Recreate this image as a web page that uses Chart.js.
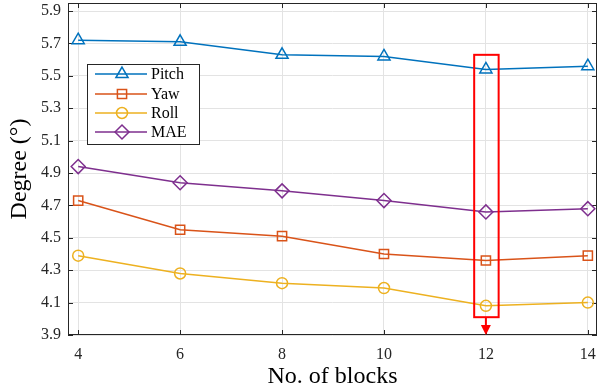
<!DOCTYPE html>
<html>
<head>
<meta charset="utf-8">
<script src="https://cdn.jsdelivr.net/npm/chart.js@4/dist/chart.umd.min.js"></script>
<style>
html,body{margin:0;padding:0;background:#fff;}
#wrap{width:599px;height:389px;position:relative;}
</style>
</head>
<body>
<div id="wrap"><canvas id="c" width="599" height="389"></canvas></div>
<script>
const blocks = [4, 6, 8, 10, 12, 14];
const pitch = [5.72, 5.71, 5.63, 5.62, 5.54, 5.56];
const yaw   = [4.73, 4.55, 4.51, 4.40, 4.36, 4.39];
const roll  = [4.39, 4.28, 4.22, 4.19, 4.08, 4.10];
const mae   = [4.94, 4.84, 4.79, 4.73, 4.66, 4.68];
const yTickValues = [3.9, 4.1, 4.3, 4.5, 4.7, 4.9, 5.1, 5.3, 5.5, 5.7, 5.9];
const xTickValues = [4, 6, 8, 10, 12, 14];
const seriesNames = ['Pitch', 'Yaw', 'Roll', 'MAE'];
const highlightBlock = 12;
const highlightRange = [4.01, 5.63];

const colors = ['#0072BD', '#D95319', '#EDB120', '#7E2F8E'];
const styles = ['triangle', 'rect', 'circle', 'rectRot'];
const radii = [7, 6.5, 5.5, 7];
const serif = "'Liberation Serif', 'Times New Roman', serif";
const axisColor = '#262626';
const gridColor = '#e3e3e3';

function mk(name, data, i) {
  return {
    label: name,
    data: blocks.map((b, k) => ({x: b, y: data[k]})),
    borderColor: colors[i],
    backgroundColor: 'rgba(0,0,0,0)',
    borderWidth: 1.5,
    pointStyle: styles[i],
    pointRadius: radii[i],
    pointHoverRadius: radii[i],
    pointBorderWidth: 1.5,
    pointBorderColor: colors[i],
    pointBackgroundColor: 'rgba(0,0,0,0)',
    tension: 0
  };
}

const framePlugin = {
  id: 'frame',
  beforeDatasetsDraw(chart) {
    const {ctx, chartArea: a, scales: {x, y}} = chart;
    ctx.save();
    ctx.strokeStyle = axisColor;
    ctx.lineWidth = 1;
    ctx.strokeRect(a.left + 0.5, a.top + 0.5, a.right - a.left - 1, a.bottom - a.top - 1);
    ctx.beginPath();
    const t = 5;
    yTickValues.forEach(v => {
      const py = Math.round(y.getPixelForValue(v)) + 0.5;
      ctx.moveTo(a.left, py); ctx.lineTo(a.left + t, py);
      ctx.moveTo(a.right, py); ctx.lineTo(a.right - t, py);
    });
    xTickValues.forEach(v => {
      const px = Math.round(x.getPixelForValue(v)) + 0.5;
      ctx.moveTo(px, a.bottom); ctx.lineTo(px, a.bottom - t);
      ctx.moveTo(px, a.top); ctx.lineTo(px, a.top + t);
    });
    ctx.stroke();
    ctx.restore();
  },
  afterDatasetsDraw(chart) {
    const {ctx, chartArea: a, scales: {x, y}} = chart;
    ctx.save();
    const x0 = x.getPixelForValue(highlightBlock - 0.23);
    const x1 = x.getPixelForValue(highlightBlock + 0.25);
    const y0 = y.getPixelForValue(highlightRange[1]);
    const y1 = y.getPixelForValue(highlightRange[0]);
    ctx.strokeStyle = '#ff0000';
    ctx.lineWidth = 2;
    ctx.strokeRect(x0, y0, x1 - x0, y1 - y0);
    const xc = x.getPixelForValue(highlightBlock);
    ctx.beginPath();
    ctx.moveTo(xc, y1); ctx.lineTo(xc, a.bottom - 8);
    ctx.stroke();
    ctx.fillStyle = '#ff0000';
    ctx.beginPath();
    ctx.moveTo(xc - 5, a.bottom - 10);
    ctx.lineTo(xc + 5, a.bottom - 10);
    ctx.lineTo(xc, a.bottom);
    ctx.closePath();
    ctx.fill();
    const lx = 87, ly = 64, lw = 112, lh = 80;
    ctx.fillStyle = '#fff';
    ctx.fillRect(lx, ly, lw, lh);
    ctx.strokeStyle = axisColor;
    ctx.lineWidth = 1;
    ctx.strokeRect(lx + 0.5, ly + 0.5, lw, lh);
    const rows = [74, 94, 113, 132];
    seriesNames.forEach((n, i) => {
      const ry = rows[i];
      ctx.strokeStyle = colors[i];
      ctx.lineWidth = 1.5;
      ctx.beginPath();
      ctx.moveTo(95, ry); ctx.lineTo(147, ry);
      ctx.stroke();
      ctx.fillStyle = 'rgba(0,0,0,0)';
      Chart.helpers.drawPoint(ctx, {pointStyle: styles[i], radius: radii[i], rotation: 0, borderWidth: 1.5}, 122, ry);
      ctx.fillStyle = '#000';
      ctx.font = "16px " + serif;
      ctx.textBaseline = 'middle';
      ctx.textAlign = 'left';
      ctx.fillText(n, 151, ry + 1);
    });
    ctx.restore();
  }
};

new Chart(document.getElementById('c'), {
  type: 'line',
  data: {
    datasets: [mk('Pitch', pitch, 0), mk('Yaw', yaw, 1), mk('Roll', roll, 2), mk('MAE', mae, 3)]
  },
  options: {
    responsive: false,
    animation: false,
    layout: {autoPadding: false, padding: {left: 0, top: 3, right: 2, bottom: 0}},
    plugins: {legend: {display: false}, tooltip: {enabled: false}},
    scales: {
      x: {
        type: 'linear',
        min: 3.8, max: 14.18,
        afterBuildTicks: s => { s.ticks = xTickValues.map(v => ({value: v})); },
        afterFit: s => { s.height = 54; s.paddingLeft = 0; s.paddingRight = 0; },
        grid: {color: gridColor, drawTicks: false, lineWidth: 1},
        border: {display: false},
        ticks: {
          font: {family: serif, size: 16}, color: axisColor, padding: 10,
          maxRotation: 0, autoSkip: false,
          callback: v => String(v)
        },
        title: {display: true, text: 'No. of blocks', font: {family: serif, size: 24, lineHeight: 1}, color: '#000', padding: {top: 0, bottom: 0}}
      },
      y: {
        type: 'linear',
        min: 3.9, max: 5.95,
        afterBuildTicks: s => { s.ticks = yTickValues.map(v => ({value: v})); },
        afterFit: s => { s.width = 68; s.paddingTop = 0; s.paddingBottom = 0; },
        grid: {color: gridColor, drawTicks: false, lineWidth: 1},
        border: {display: false},
        ticks: {
          font: {family: serif, size: 16}, color: axisColor, padding: 7,
          autoSkip: false,
          callback: v => Number(v).toFixed(1)
        },
        title: {display: true, text: 'Degree (°)', font: {family: serif, size: 24, lineHeight: 1}, color: '#000', padding: {top: 8, bottom: 0}}
      }
    }
  },
  plugins: [framePlugin]
});
</script>
</body>
</html>
